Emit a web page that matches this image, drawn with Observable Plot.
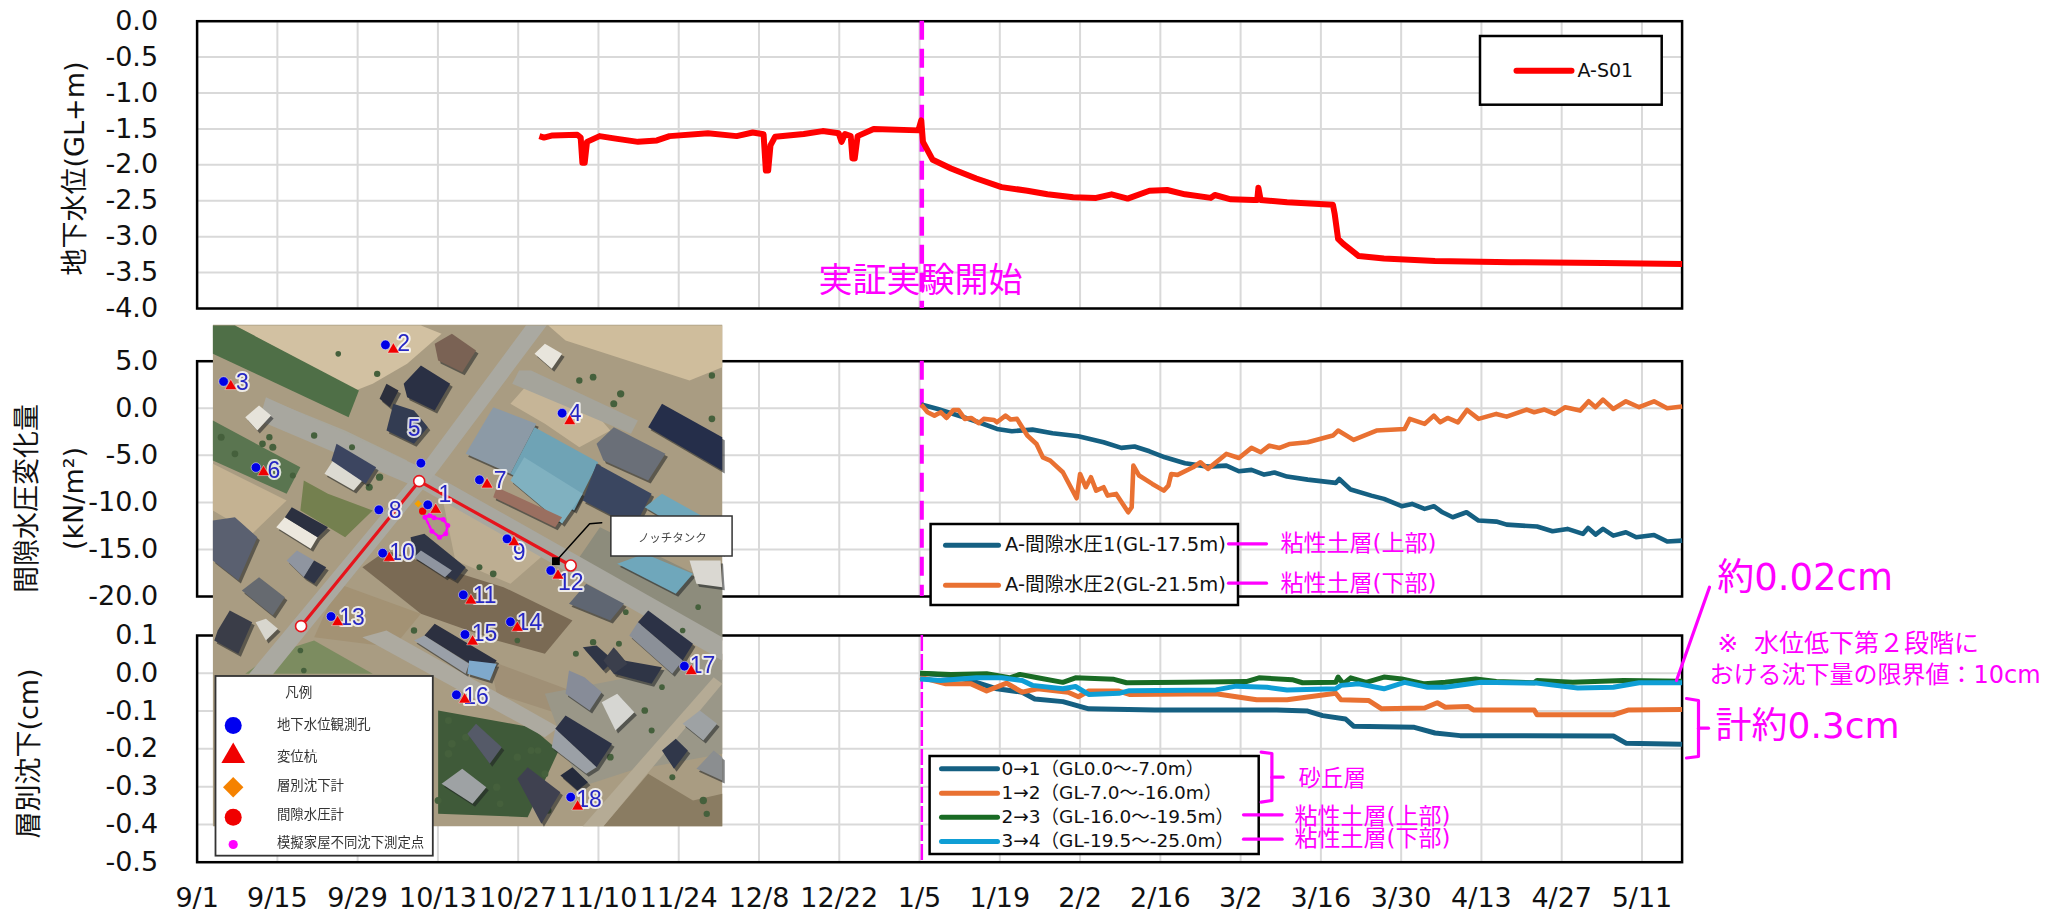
<!DOCTYPE html>
<html lang="ja">
<head>
<meta charset="utf-8">
<style>
html,body{margin:0;padding:0;background:#fff;overflow:hidden}
#page{position:relative;width:2045px;height:915px;overflow:hidden}
#page>div,#page>svg{position:absolute}
</style>
<script src="https://cdn.jsdelivr.net/npm/d3@7"></script>
<script src="https://cdn.jsdelivr.net/npm/@observablehq/plot@0.6"></script>
</head>
<body>
<div id="page"></div>
<script>
// ---------- chart values ----------
const tickLabels = ["9/1","9/15","9/29","10/13","10/27","11/10","11/24","12/8","12/22","1/5","1/19","2/2","2/16","3/2","3/16","3/30","4/13","4/27","5/11"];
const startDay = 126.4; // 実証実験開始

const s01Days = [59.7,60.5,62,66.3,66.9,67.2,67.6,68,70.2,73,76.9,80.2,82.4,89.1,94.1,96.9,98.8,99.2,99.6,100,100.8,105.8,109.1,111.9,112.4,113,114,114.3,114.7,115.2,118,125.8,126.3,126.6,128.3,131.5,135.9,140.3,144.8,148.3,152.8,156.8,159.5,162.3,166.1,169.2,172.3,176.8,177.5,180.3,184.3,184.9,185.1,185.5,190.1,198.1,198.4,199,199.9,202.6,207,215.9,229.2,245.2,259];
const s01Vals = [-1.60,-1.62,-1.59,-1.58,-1.62,-1.97,-1.97,-1.68,-1.60,-1.635,-1.68,-1.66,-1.60,-1.56,-1.60,-1.55,-1.575,-2.08,-2.08,-1.73,-1.61,-1.57,-1.53,-1.56,-1.68,-1.57,-1.60,-1.91,-1.91,-1.60,-1.50,-1.52,-1.38,-1.68,-1.93,-2.05,-2.19,-2.31,-2.36,-2.41,-2.45,-2.46,-2.41,-2.47,-2.36,-2.35,-2.41,-2.46,-2.42,-2.48,-2.49,-2.49,-2.32,-2.49,-2.52,-2.555,-2.68,-3.03,-3.10,-3.27,-3.305,-3.34,-3.355,-3.365,-3.38];

const pw1Days = [126.3,129.2,131.5,133.7,136.8,139.5,142.1,145.7,149.2,153.7,158.1,161.2,163.5,166.1,168.8,172.3,176.3,179.5,181.7,183.9,186.1,187.9,190.1,193.7,198.6,199.2,201.2,204.8,207,210.1,211.9,214.1,215.7,217.2,219,221.4,223.5,226.6,228.4,233.7,236.4,239,241.7,242.6,243.9,245.2,247,249.2,251,254.1,256.4,259];
const pw1Vals = [0.39,-0.07,-0.53,-0.96,-1.59,-2.20,-2.44,-2.27,-2.66,-2.97,-3.61,-4.21,-4.07,-4.57,-5.21,-5.84,-6.20,-6.09,-6.69,-6.55,-7.05,-6.83,-7.26,-7.58,-7.93,-7.51,-8.64,-9.28,-9.63,-10.41,-10.16,-10.69,-10.41,-11.05,-11.58,-11.05,-11.93,-12.04,-12.36,-12.57,-13.07,-12.82,-13.35,-12.71,-13.42,-12.82,-13.53,-13.17,-13.70,-13.46,-14.16,-14.06];

const pw2Days = [126.3,127.4,128.6,129.7,130.7,131.9,132.8,133.9,135,136.3,137.2,139,139.5,141,141.9,143,144.8,146.4,147.5,148.8,151,153.4,154,155,155.9,156.8,158.1,158.8,160.3,162.4,163,163.3,164.3,166.6,168.6,169.4,169.9,171,173.7,175,176.3,179.5,181.7,183.9,185.5,187,188.8,190.6,193.7,198.1,199,201.7,205.7,210.6,211.5,214.1,215.7,216.8,218.1,219.9,221.5,223.5,226.6,228.4,231.9,233.2,235,236.8,238.6,241.2,242.7,243.9,245.2,247,249.2,251.5,254.1,256.4,259];
const pw2Vals = [0.39,-0.42,-0.78,-0.42,-1.03,-0.18,-0.18,-1.13,-1.03,-1.59,-1.13,-1.24,-1.49,-0.78,-1.20,-1.13,-2.90,-3.79,-5.21,-5.56,-6.80,-9.56,-6.98,-8.39,-7.33,-8.75,-8.39,-9.28,-9.10,-11.05,-10.52,-6.09,-7.15,-8.04,-8.75,-8.22,-6.98,-7.08,-6.27,-5.74,-6.44,-4.85,-5.28,-4.21,-4.67,-3.97,-4.21,-3.79,-3.61,-2.90,-2.37,-3.36,-2.37,-2.20,-1.13,-1.66,-0.78,-1.49,-1.03,-1.49,-0.18,-1.13,-0.60,-0.89,-0.14,-0.42,-0.14,-0.60,0.11,-0.25,0.74,0.11,0.92,-0.07,0.74,0.11,0.74,0,0.18];

const l01Days = [126.1,131.5,135.9,139.5,143.9,146.1,151,155.5,167,188.3,193.7,196.3,200.3,201.7,212.3,215.9,220.3,247,249.2,259];
const l01Vals = [0,-0.006,-0.024,-0.041,-0.05,-0.068,-0.075,-0.094,-0.097,-0.097,-0.10,-0.112,-0.121,-0.14,-0.143,-0.158,-0.165,-0.166,-0.185,-0.188];
const l12Days = [126.1,130.6,135,137.7,141.2,143.9,146.6,151.9,153.7,155.5,160.8,162.6,177.7,184.8,190.1,193.7,198.6,199.5,204.3,206.6,214.1,216.3,217.7,221.7,222.6,233.2,233.7,247,249.7,259];
const l12Vals = [-0.010,-0.028,-0.028,-0.047,-0.026,-0.05,-0.041,-0.05,-0.062,-0.047,-0.047,-0.056,-0.054,-0.07,-0.07,-0.063,-0.053,-0.07,-0.072,-0.094,-0.092,-0.078,-0.09,-0.088,-0.097,-0.097,-0.11,-0.11,-0.097,-0.096];
const l23Days = [126.1,131.5,137.7,141.7,143.5,146.6,151,153.2,159.9,162.1,172.3,183,185.2,191,192.8,198.6,199,199.9,201.2,203.9,207,210.1,214.1,217.7,223,226.6,233.2,233.7,239.9,248.8,259];
const l23Vals = [0,-0.003,-0.001,-0.012,-0.003,-0.012,-0.024,-0.012,-0.016,-0.025,-0.024,-0.022,-0.012,-0.017,-0.025,-0.024,-0.01,-0.028,-0.012,-0.024,-0.01,-0.015,-0.028,-0.024,-0.015,-0.022,-0.025,-0.019,-0.024,-0.019,-0.021];
const l34Days = [126.1,129.7,135.9,140.3,143.9,145.7,151,153.2,155.5,160.8,162.6,177.7,181.2,186.6,190.1,198.6,199.5,202.6,207,210.6,214.6,217.7,223.9,233.7,240.8,247,251.5,259];
const l34Vals = [-0.015,-0.019,-0.012,-0.012,-0.019,-0.032,-0.041,-0.035,-0.056,-0.053,-0.046,-0.044,-0.034,-0.037,-0.044,-0.041,-0.032,-0.028,-0.041,-0.024,-0.037,-0.037,-0.024,-0.026,-0.039,-0.037,-0.025,-0.025];

const yTicks1 = [0,-0.5,-1,-1.5,-2,-2.5,-3,-3.5,-4];
const yTicks2 = [5,0,-5,-10,-15,-20];
const yTicks3 = [0.1,0,-0.1,-0.2,-0.3,-0.4,-0.5];

const nameS01 = "A-S01";
const namePw1 = "A-間隙水圧1(GL-17.5m)";
const namePw2 = "A-間隙水圧2(GL-21.5m)";
const nameL01 = "0→1（GL0.0～-7.0m）";
const nameL12 = "1→2（GL-7.0～-16.0m）";
const nameL23 = "2→3（GL-16.0～-19.5m）";
const nameL34 = "3→4（GL-19.5～-25.0m）";

// Aerial map (map units)
const mapFields = [
 ["#d2c1a2",[[100,15],[640,15],[700,40],[600,130],[500,190],[450,210]]],
 ["#cfbd9c",[[1010,15],[1515,15],[1515,140],[1420,180],[1060,60]]],
 ["#c6b597",[[960,180],[1140,270],[1190,330],[1100,380],[1000,310],[900,250]]],
 ["#4f6f47",[[36,15],[100,15],[460,210],[430,290],[36,100]]],
 ["#a8a79c",[[205,240],[420,330],[600,420],[560,450],[240,330]]],
 ["#5a7550",[[36,300],[180,380],[290,440],[250,520],[36,420]]],
 ["#c4b292",[[36,430],[250,540],[150,640],[36,570]]],
 ["#74804f",[[300,480],[370,520],[500,570],[420,650],[290,570]]],
 ["#bdae92",[[700,520],[1000,700],[900,790],[740,720]]],
 ["#7a6a54",[[470,740],[540,690],[880,800],[1080,900],[1000,1000],[860,960],[640,880]]],
 ["#a39274",[[330,950],[400,790],[640,880],[560,980]]],
 ["#a09076",[[840,1020],[1100,1120],[1040,1180],[860,1120]]],
 ["#3f5a39",[[690,1170],[960,1220],[1040,1290],[950,1490],[690,1480]]],
 ["#8a7c62",[[1300,1360],[1430,1440],[1515,1420],[1515,1517],[1170,1517]]],
 ["#7c8c60",[[210,1000],[330,960],[500,1060],[130,1060]]],
 ["#9a9788",[[1000,1120],[1300,1060],[1515,1000],[1515,1300],[1250,1350],[1100,1400]]],
 ["#8d8c7c",[[1160,620],[1515,800],[1515,960],[1100,710]]]
];
const mapRoads = [
 ["#a8a79f",[[190,230],[640,440],[1515,950],[1515,1020],[650,510],[170,300]]],
 ["#aaa9a1",[[945,15],[1005,15],[690,450],[210,1062],[140,1062],[640,440]]],
 ["#a5a49b",[[925,150],[960,150],[1270,300],[1250,340],[905,190]]],
 ["#b5ab95",[[1490,1070],[1515,1090],[1170,1517],[1110,1517]]],
 ["#adaaa0",[[470,950],[540,930],[1040,1220],[1000,1250]]]
];
const mapRoofs = [
 ["#7a6254",[[680,70],[730,40],[800,90],[760,155],[690,120]]],
 ["#2a3044",[[590,190],[640,135],[725,190],[680,270],[600,230]]],
 ["#2c2f3c",[[540,190],[575,210],[550,260],[520,235]]],
 ["#333c52",[[560,250],[620,270],[660,320],[620,370],[540,330]]],
 ["#e6e3da",[[130,290],[170,255],[205,285],[165,330]]],
 ["#e8e5dc",[[970,100],[1000,70],[1050,100],[1020,145]]],
 ["#8c9aa6",[[770,400],[850,260],[975,310],[900,460]]],
 ["#6fa3b5",[[900,460],[970,320],[1155,425],[1085,570]]],
 ["#80b1c0",[[900,480],[940,410],[1110,520],[1050,610]]],
 ["#9a6f60",[[860,500],[1050,590],[1030,620],[850,530]]],
 ["#3a4660",[[1150,430],[1310,520],[1260,620],[1110,540]]],
 ["#6a6f78",[[1150,370],[1200,320],[1350,400],[1300,480],[1170,420]]],
 ["#252e4a",[[1300,320],[1340,250],[1515,350],[1515,450]]],
 ["#6fa7bb",[[1290,560],[1340,520],[1515,620],[1515,700]]],
 ["#6fa7bb",[[1210,730],[1290,700],[1430,760],[1380,820]]],
 ["#dcdad2",[[360,460],[385,420],[470,480],[445,510]]],
 ["#3c4560",[[380,420],[395,370],[510,440],[480,490]]],
 ["#ece8de",[[220,620],[245,590],[340,650],[320,685]]],
 ["#2b3040",[[245,590],[265,560],[370,620],[340,650]]],
 ["#5a6070",[[36,600],[100,590],[165,650],[110,780],[36,720]]],
 ["#8f95a0",[[250,720],[280,690],[330,720],[300,770]]],
 ["#2f3546",[[300,770],[330,720],[365,740],[330,790]]],
 ["#666a70",[[120,810],[170,770],[245,830],[210,885]]],
 ["#3a3d48",[[50,930],[85,870],[150,905],[110,1000],[40,960]]],
 ["#d8d6ce",[[160,905],[190,895],[225,925],[190,960]]],
 ["#2f3546",[[610,650],[650,640],[770,740],[740,780],[620,710]]],
 ["#8f95a0",[[620,710],[640,690],[730,750],[710,770]]],
 ["#2c3040",[[650,945],[680,910],[860,1020],[830,1060]]],
 ["#7fa9cc",[[780,1020],[860,1030],[840,1080],[775,1060]]],
 ["#9aa0a8",[[620,960],[650,945],[780,1030],[770,1060]]],
 ["#5f6672",[[1070,850],[1120,790],[1230,850],[1190,900]]],
 ["#2f3546",[[1110,980],[1150,975],[1200,1020],[1170,1050]]],
 ["#2f3546",[[1230,1020],[1340,1040],[1310,1090],[1200,1060]]],
 ["#2c3246",[[1270,905],[1300,870],[1430,970],[1400,1020]]],
 ["#8b9098",[[1245,945],[1270,905],[1400,1020],[1370,1060]]],
 ["#2c3246",[[1030,1225],[1060,1185],[1195,1270],[1150,1340]]],
 ["#9ba0a6",[[1030,1225],[1150,1340],[1120,1360],[1020,1280]]],
 ["#878c98",[[1070,1050],[1115,1070],[1165,1115],[1130,1170],[1060,1120]]],
 ["#d6d6d2",[[1165,1145],[1210,1120],[1260,1175],[1205,1230]]],
 ["#3f4150",[[920,1375],[950,1340],[1045,1415],[990,1510]]],
 ["#252b3c",[[1045,1365],[1080,1340],[1125,1385],[1095,1410]]],
 ["#555a68",[[775,1240],[800,1210],[875,1280],[840,1330]]],
 ["#9ea2a4",[[700,1390],[760,1345],[830,1400],[790,1450]]],
 ["#30374a",[[1340,1290],[1380,1255],[1415,1290],[1375,1345]]],
 ["#9ea2a4",[[1400,1210],[1450,1170],[1500,1210],[1460,1260]]],
 ["#8b8e90",[[1440,1345],[1490,1290],[1515,1310],[1515,1380]]],
 ["#3b3f4c",[[1170,1020],[1200,980],[1240,1030],[1200,1060]]],
 ["#dad8d2",[[1420,720],[1510,720],[1515,800],[1440,790]]]
];
const mapTreeX = [400,513,1100,1140,1220,1200,1485,1485,268,210,330,520,620,920,850,1140,1215,1235,1445,1460,1290,730,960,1000,1370,1310,290,920,1040,200,860,1130,180,60,100,490,810,720,770,1010,980,640,870,1400,1470,1340,1090,1190,300,720,690,440];
const mapTreeY = [100,160,180,170,220,250,165,295,465,380,345,470,930,960,760,965,970,875,860,1440,1170,1270,1290,1360,1370,1230,990,1310,600,350,1400,1340,370,350,400,500,740,1300,1250,1470,1290,700,1450,930,1480,1100,1000,1310,1050,1200,1440,380];
const mapTreeR = [7,9,9,10,12,11,9,10,8,11,9,12,9,7,10,9,8,7,7,12,10,13,11,11,8,8,7,12,6,9,12,9,10,11,10,11,8,13,11,9,10,7,10,7,9,7,8,10,7,11,11,8];

const wellNo = ["1","2","3","4","5","6","7","8","9","10","11","12","13","14","15","16","17","18"];
const wellX  = [660,537,67,1050,640,161,810,518,890,529,763,1017,379,900,768,743,1405,1075];
const wellY  = [553,73,183,278,428,441,478,568,655,698,823,750,888,904,942,1123,1037,1430];
const pileX  = [683,560,88,1072,null,183,832,null,910,548,785,1038,398,920,790,767,1425,1095];
const pileY  = [568,87,197,302,null,455,492,null,665,712,840,765,905,922,963,1137,1052,1458];
const tagX   = [710,590,122,1088,620,213,870,565,925,585,825,1075,440,955,825,800,1458,1128];
const tagY   = [522,68,187,280,325,450,480,570,695,697,825,785,890,907,940,1128,1035,1437];
const linePathX = [292,635,1075];
const linePathY = [917,482,735];
const houseX = [652,666,678,705,718,712,694,672];
const houseY = [590,585,592,597,615,640,650,632];
const mapLegendLabels = ["地下水位観測孔","変位杭","層別沈下計","間隙水圧計","模擬家屋不同沈下測定点"];

// ---------- palette ----------
const RED="#ff0000", TEAL="#156082", ORANGE="#e97132", GREEN="#196b24", SKY="#0f9ed5", MAG="#ff00ff", GRID="#d9d9d9";
const FONT = "'DejaVu Sans','Noto Sans CJK JP',sans-serif";
const page = document.getElementById("page");
const zip = (xs, ys) => xs.map((x, i) => ({x, y: ys[i]}));
function place(el, left, top){ el.style.position="absolute"; el.style.left=left+"px"; el.style.top=top+"px"; page.appendChild(el); return el; }

// ---------- panels ----------
const DAY_MAX = 259;
function panel({top, height, mt, mb, domain, ticks, series, dash, dashW, xAxis}){
  const marks = [
    Plot.gridX(d3.range(0, DAY_MAX, 14), {stroke:GRID, strokeOpacity:1, strokeWidth:2}),
    Plot.gridY(ticks, {stroke:GRID, strokeOpacity:1, strokeWidth:2}),
    Plot.axisY(ticks, {tickSize:0, tickPadding:39, fontSize:27, label:null, fill:"#111", tickFormat:d=>d.toFixed(1)}),
    Plot.frame({stroke:"#000", strokeWidth:2.5})
  ];
  if (xAxis) marks.push(Plot.axisX(d3.range(0, DAY_MAX, 14), {tickSize:0, tickPadding:26, fontSize:27, label:null, fill:"#111", tickFormat:d=>tickLabels[d/14]}));
  marks.push(Plot.ruleX([startDay], {y1:domain[1], y2:domain[0], stroke:MAG, strokeWidth:dashW, strokeDasharray:dash}));
  for (const s of series) marks.push(Plot.line(zip(s.days, s.vals), {x:"x", y:"y", stroke:s.color, strokeWidth:s.w, strokeLinejoin:"round", strokeLinecap:"butt"}));
  const svg = Plot.plot({
    width:2045, height, marginLeft:196.6, marginRight:363.4, marginTop:mt, marginBottom:mb,
    x:{domain:[0,DAY_MAX], axis:null}, y:{domain:[domain[0],domain[1]], axis:null},
    style:{background:"transparent", fontFamily:FONT, overflow:"visible"},
    marks
  });
  place(svg, 0, top);
}
panel({top:0, height:330, mt:20.7, mb:22, domain:[-4,0], ticks:yTicks1, dash:"19 9", dashW:4.5, series:[{days:s01Days, vals:s01Vals, color:RED, w:6}]});
panel({top:340, height:270, mt:20.7, mb:14, domain:[-20,5], ticks:yTicks2, dash:"19 9", dashW:4, series:[{days:pw1Days, vals:pw1Vals, color:TEAL, w:4.6},{days:pw2Days, vals:pw2Vals, color:ORANGE, w:4.6}]});
panel({top:615, height:300, mt:20, mb:53.3, domain:[-0.5,0.1], ticks:yTicks3, dash:"16 3", dashW:2.5, xAxis:true, series:[{days:l01Days, vals:l01Vals, color:TEAL, w:5},{days:l12Days, vals:l12Vals, color:ORANGE, w:5},{days:l23Days, vals:l23Vals, color:GREEN, w:5},{days:l34Days, vals:l34Vals, color:SKY, w:5}]});

// ---------- aerial map ----------
function polyRows(list, prefix){ return list.flatMap(([c,pts],i)=>pts.map(([x,y])=>({x,y,c,id:prefix+i}))); }
const polyMark = rows => Plot.line(rows,{x:"x",y:"y",z:"id",fill:"c",stroke:"none"});
const tile = [[36,13],[1515,13],[1515,1517],[36,1517]];
const wells = wellX.map((x,i)=>({x,y:wellY[i]}));
const piles = pileX.map((x,i)=>({x,y:pileY[i]})).filter(d=>d.x!=null);
const tags = tagX.map((x,i)=>({x,y:tagY[i],t:wellNo[i]}));
const mapSvg = Plot.plot({
  width:540, height:540, margin:0,
  x:{domain:[0,1568], range:[0,540], axis:null}, y:{domain:[0,1620], range:[0,540], axis:null},
  color:{type:"identity"},
  style:{background:"transparent", fontFamily:FONT, overflow:"visible", filter:"blur(0.7px)"},
  marks:[
    polyMark(polyRows([["#a99c82",tile]],"t")),
    polyMark(polyRows(mapFields,"f")),
    polyMark(polyRows(mapRoads,"r")),
    Plot.dot(mapTreeX.map((x,i)=>({x,y:mapTreeY[i],r:mapTreeR[i]})),{x:"x",y:"y",r:"r",fill:"#45603c",stroke:"none"}),
    Plot.line(polyRows(mapRoofs,"s"),{x:"x",y:"y",z:"id",fill:"#1d2022",fillOpacity:.55,stroke:"none",dx:2.5,dy:3}),
    polyMark(polyRows(mapRoofs,"b")),
    Plot.line(zip(linePathX,linePathY),{x:"x",y:"y",stroke:"#e6141c",strokeWidth:3.2}),
    Plot.line(zip(houseX.concat(houseX[0]),houseY.concat(houseY[0])),{x:"x",y:"y",stroke:MAG,strokeWidth:2.5,strokeDasharray:"3 2"}),
    Plot.dot(zip(houseX,houseY),{x:"x",y:"y",r:2.5,fill:MAG}),
    Plot.dot(zip(linePathX,linePathY),{x:"x",y:"y",r:5.5,fill:"#fff",stroke:"#e6141c",strokeWidth:1.6}),
    Plot.dot([{x:632,y:550}],{x:"x",y:"y",r:3.4,fill:"#f5a000",symbol:"diamond2"}),
    Plot.dot([{x:645,y:572}],{x:"x",y:"y",r:3.6,fill:"#f00000"}),
    Plot.text(tags,{x:"x",y:"y",text:"t",fontSize:23,fontFamily:"'Liberation Sans',sans-serif",fill:"#2626c4",stroke:"#fff",strokeWidth:4,strokeOpacity:.8,paintOrder:"stroke"}),
    Plot.dot(piles,{x:"x",y:"y",r:4.4,symbol:"triangle",fill:"#f00000",stroke:"#fff",strokeOpacity:.5,strokeWidth:.8}),
    Plot.dot(wells,{x:"x",y:"y",r:4.8,fill:"#0000e6",stroke:"#fff",strokeOpacity:.6,strokeWidth:.8}),
    Plot.line(zip([1032,1130,1165],[722,610,607]),{x:"x",y:"y",stroke:"#000",strokeWidth:1.5}),
    Plot.dot([{x:1032,y:722}],{x:"x",y:"y",r:4.4,symbol:"square",fill:"#000"}),
    Plot.rect([{a:1193,b:1545,c:588,d:708}],{x1:"a",x2:"b",y1:"c",y2:"d",fill:"#fff",stroke:"#333",strokeWidth:1.5}),
    Plot.text(["ノッチタンク"],{x:1370,y:652,fontSize:11.5,fill:"#444"}),
    Plot.rect([{a:45,b:676,c:1068,d:1607}],{x1:"a",x2:"b",y1:"c",y2:"d",fill:"#fff",stroke:"#333",strokeWidth:1.8}),
    Plot.text(["凡例"],{x:285,y:1117,fontSize:13.5,fill:"#333"}),
    Plot.dot([{x:95,y:1215}],{x:"x",y:"y",r:8.5,fill:"#0000f0"}),
    Plot.dot([{x:95,y:1307}],{x:"x",y:"y",r:8.8,symbol:"triangle",fill:"#f00000"}),
    Plot.dot([{x:95,y:1400}],{x:"x",y:"y",r:9.2,symbol:"diamond2",fill:"#f58200"}),
    Plot.dot([{x:95,y:1490}],{x:"x",y:"y",r:8.5,fill:"#f00000"}),
    Plot.dot([{x:95,y:1572}],{x:"x",y:"y",r:4.6,fill:MAG}),
    Plot.text(mapLegendLabels.map((t,i)=>({t,y:[1212,1308,1395,1483,1567][i]})),{x:222,y:"y",text:"t",textAnchor:"start",fontSize:13.4,fill:"#333"})
  ]
});
place(mapSvg, 200, 320);

// ---------- overlay: legends, call-outs, axis titles ----------
const seg = (xs, ys) => Plot.line(zip(xs,ys),{x:"x",y:"y",stroke:MAG,strokeWidth:3.2,strokeLinecap:"round",strokeLinejoin:"round"});
const key = (x1,x2,y,color,w) => Plot.line(zip([x1,x2],[y,y]),{x:"x",y:"y",stroke:color,strokeWidth:w||5,strokeLinecap:"round"});
const box = (a,b,c,d) => Plot.rect([{a,b,c,d}],{x1:"a",x2:"b",y1:"c",y2:"d",fill:"#fff",stroke:"#000",strokeWidth:2.5});
const txt = (t,x,y,size,o={}) => Plot.text([t],{x,y,fontSize:size,textAnchor:"start",fill:"#111",...o});
const magTxt = (t,x,y,size) => txt(t,x,y,size,{fill:MAG});
const vert = (t,x,y,size) => txt(t,x,y,size,{textAnchor:"middle",rotate:-90});
const overlay = Plot.plot({
  width:2045, height:915, margin:0,
  x:{type:"identity", axis:null}, y:{type:"identity", axis:null},
  style:{background:"transparent", fontFamily:FONT, overflow:"visible", pointerEvents:"none"},
  marks:[
    vert("地下水位(GL+m)",74.6,168,27),
    vert("間隙水圧変化量",26.7,498,27),
    vert("(kN/m²)",74,498,27),
    vert("層別沈下(cm)",29,753,27),
    txt("実証実験開始",920,280.5,34,{textAnchor:"middle",fill:MAG}),

    box(1480,1661.7,36,104.7),
    key(1516,1571,70.3,RED,6),
    txt(nameS01,1577,70.5,19),

    box(930.6,1238,524,605),
    key(945,998,544.7,TEAL),
    key(945,998,584.7,ORANGE),
    txt(namePw1,1004.6,544.7,19.5),
    txt(namePw2,1004.6,584.7,19.5),
    seg([1228,1266],[543.3,543.3]),
    seg([1228,1266],[582.7,582.7]),
    magTxt("粘性土層(上部)",1280,543.5,23),
    magTxt("粘性土層(下部)",1280,583,23),

    box(929.6,1258.7,756,854),
    key(941,997,768.3,TEAL),
    key(941,997,792.7,ORANGE),
    key(941,997,816.7,GREEN),
    key(941,997,841,SKY),
    txt(nameL01,1001,769,18.5),
    txt(nameL12,1001,793,18.5),
    txt(nameL23,1001,817,18.5),
    txt(nameL34,1001,841,18.5),
    seg([1260.7,1271.4,1271.4,1260.7],[751.7,753,800,801.7]),
    seg([1271.4,1282.6],[776.7,776.7]),
    magTxt("砂丘層",1298,778,22.5),
    seg([1243,1281.6],[814.3,814.3]),
    seg([1243,1281.6],[838.7,838.7]),
    magTxt("粘性土層(上部)",1294,815.7,23),
    magTxt("粘性土層(下部)",1294,838.5,23),

    seg([1709,1676],[586.7,680]),
    magTxt("約0.02cm",1716.7,577.7,37),
    magTxt("※\u00a0\u00a0水位低下第２段階に",1716.7,643,25),
    magTxt("おける沈下量の限界値：10cm",1709,675,24),
    seg([1686,1698,1698,1686],[698,700,756,757.5]),
    seg([1698,1708],[727.7,727.7]),
    magTxt("計約0.3cm",1715,725.7,36)
  ]
});
place(overlay, 0, 0);
</script>
</body>
</html>
